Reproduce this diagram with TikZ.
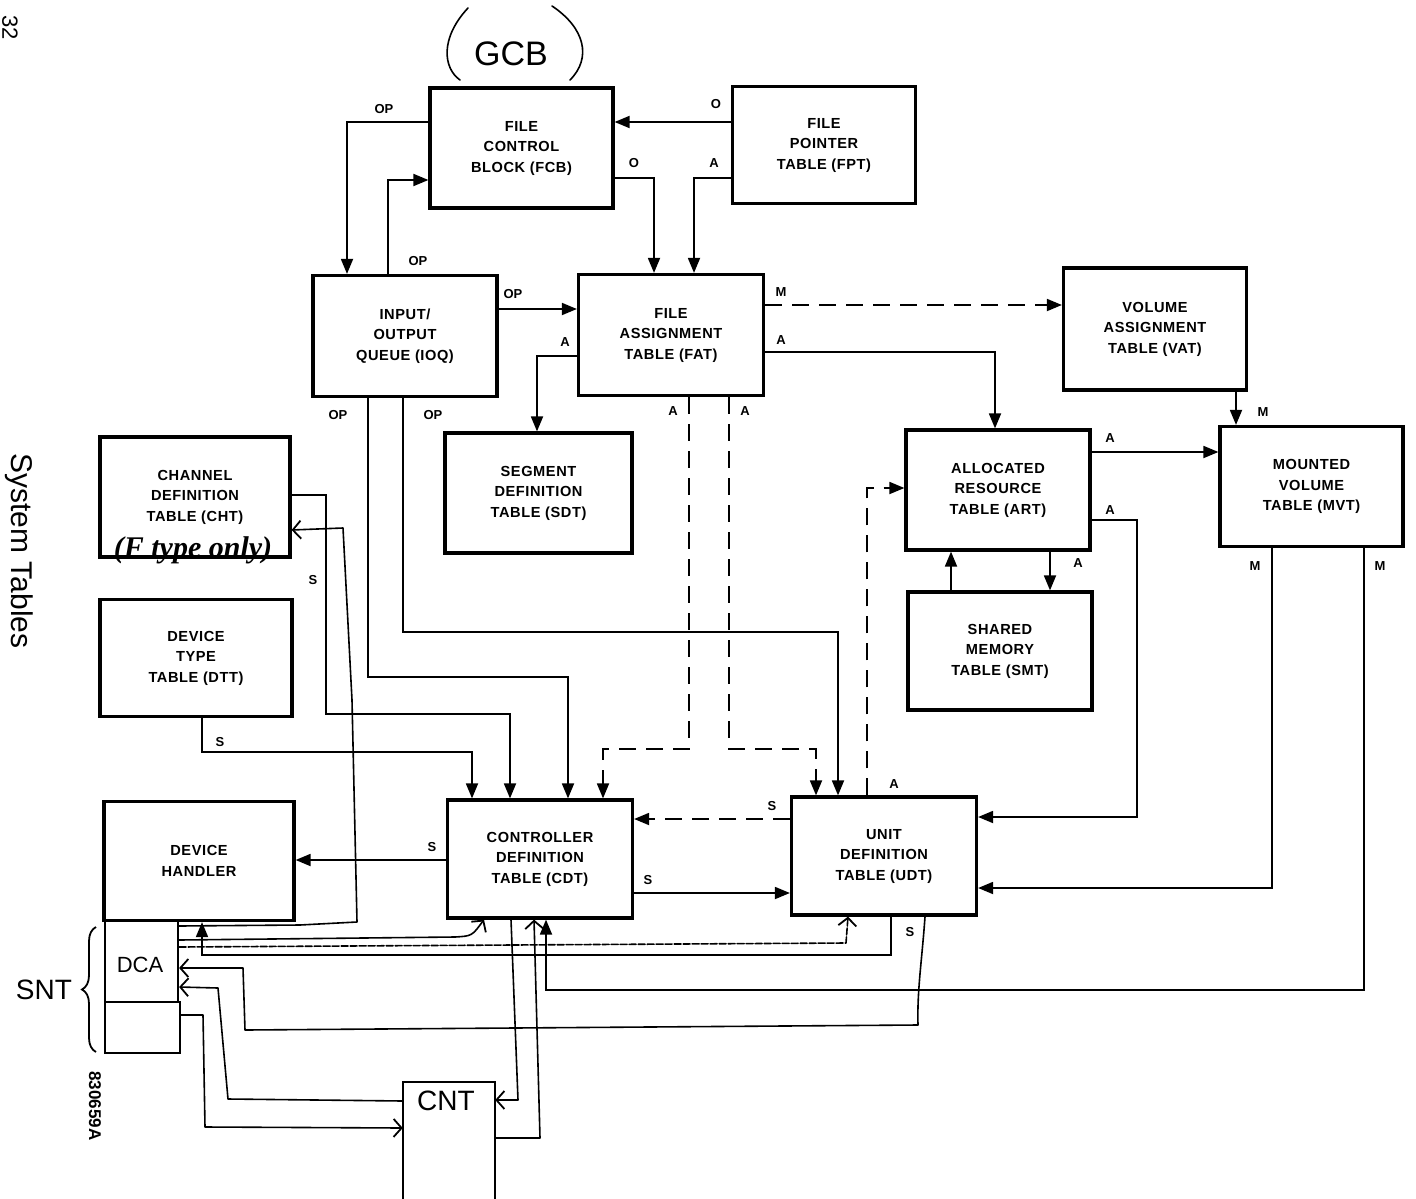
\documentclass[tikz,border=0pt]{standalone}
\usepackage{fontspec}
\setmainfont{Liberation Sans}
\newfontfamily\boxfont{Liberation Sans}[LetterSpace=4]
\newfontfamily\handfont{Liberation Serif}
\newfontfamily\handsans{Liberation Sans}
\usetikzlibrary{arrows.meta,decorations.pathreplacing}
\begin{document}
\begin{tikzpicture}[x=1pt,y=-1pt,
  bx/.style 2 args={minimum width=#1pt, minimum height=#2pt},
  tbl/.style={draw, line width=3.2pt, align=center, inner sep=0pt,
    font=\boxfont\bfseries\fontsize{14.6}{20.5}\selectfont},
  lbl/.style={font=\bfseries\fontsize{13}{13}\selectfont, inner sep=1pt},
  arr/.style={line width=1.8pt, -{Triangle[length=15pt,width=12pt]}},
  dsh/.style={dash pattern=on 17pt off 10pt},
  hline/.style={line width=1.6pt, line join=round, line cap=round},
  harr/.style={hline, -{Straight Barb[length=8pt,width=18pt,line width=1.8pt]}},
  hb/.style={draw, line width=2.2pt, inner sep=0pt},
  hw/.style={font=\handsans\fontsize{#1}{#1}\selectfont, inner sep=0pt},
  hw/.default=24
]
\useasboundingbox (0,0) rectangle (1416,1199);

% ---------------- margin texts ----------------
\node[rotate=-90, font=\fontsize{22}{22}\selectfont, inner sep=0pt] (pg) at (10,28) {32};
\node[rotate=-90, font=\fontsize{30}{30}\selectfont, inner sep=0pt] (title) at (19,551) {System Tables};
\node[rotate=-90, font=\bfseries\fontsize{17}{17}\selectfont, inner sep=0pt] (code) at (95,1106) {830659A};

% ---------------- boxes ----------------
\node[tbl,bx={183}{120}] (fcb) at (521.5,148) {FILE\\CONTROL\\BLOCK (FCB)};
\node[tbl,bx={183}{117}] (fpt) at (824,145) {FILE\\POINTER\\TABLE (FPT)};
\node[tbl,bx={184}{121}] (ioq) at (405,336) {INPUT/\\OUTPUT\\QUEUE (IOQ)};
\node[tbl,bx={185}{121}] (fat) at (671,335) {FILE\\ASSIGNMENT\\TABLE (FAT)};
\node[tbl,bx={183}{122}] (vat) at (1155,329) {VOLUME\\ASSIGNMENT\\TABLE (VAT)};
\node[tbl,bx={187}{120}] (sdt) at (538.5,493) {SEGMENT\\DEFINITION\\TABLE (SDT)};
\node[tbl,bx={184}{120}] (art) at (998,490) {ALLOCATED\\RESOURCE\\TABLE (ART)};
\node[tbl,bx={183}{120}] (mvt) at (1311.5,486.5) {MOUNTED\\VOLUME\\TABLE (MVT)};
\node[tbl,bx={190}{120}] (cht) at (195,497) {CHANNEL\\DEFINITION\\TABLE (CHT)};
\node[tbl,bx={192}{117}] (dtt) at (196,658) {DEVICE\\TYPE\\TABLE (DTT)};
\node[tbl,bx={184}{118}] (smt) at (1000,651) {SHARED\\MEMORY\\TABLE (SMT)};
\node[tbl,bx={190}{119}] (dh) at (199,861) {DEVICE\\HANDLER};
\node[tbl,bx={185}{118}] (cdt) at (540,859) {CONTROLLER\\DEFINITION\\TABLE (CDT)};
\node[tbl,bx={185}{118}] (udt) at (884,856) {UNIT\\DEFINITION\\TABLE (UDT)};

% hand-drawn boxes
\node[hb,bx={73}{82}] (dca) at (141.5,961) {};
\node[hw=22] (dcat) at (140,965) {DCA};
\node[hb,bx={75}{51}] (dcb) at (142.5,1027.5) {};
\node[inner sep=0pt,bx={92}{117}] (cnt) at (449,1141) {};
\draw[hb] (cnt.south west) -- (cnt.north west) -- (cnt.north east) -- (cnt.south east);
\node[hw=28] (cntt) at (446,1101) {CNT};

% ---------------- connectors ----------------
\draw[arr] (fcb.west |- 0,122) -| (ioq.north -| 347,0);
\draw[arr] (ioq.north -| 388,0) |- (fcb.west |- 0,180);
\draw[arr] (fpt.west |- 0,122) -- (fcb.east |- 0,122);
\draw[arr] (fcb.east |- 0,178) -| (fat.north -| 654,0);
\draw[arr] (fpt.west |- 0,178) -| (fat.north -| 694,0);
\draw[arr] (ioq.east |- 0,309) -- (fat.west |- 0,309);
\draw[arr,dsh] (fat.east |- 0,305) -- (vat.west |- 0,305);
\draw[arr] (fat.east |- 0,352) -| (art.north -| 995,0);
\draw[arr] (fat.west |- 0,356) -| (sdt.north -| 537,0);
\draw[arr] (vat.south -| 1236,0) -- (mvt.north -| 1236,0);
\draw[arr] (art.east |- 0,452) -- (mvt.west |- 0,452);
\draw[arr] (art.south -| 1050,0) -- (smt.north -| 1050,0);
\draw[arr] (smt.north -| 951,0) -- (art.south -| 951,0);
\draw[arr] (art.east |- 0,520) -| (1137,817) -- (udt.east |- 0,817);
\draw[arr] (mvt.south -| 1272,0) |- (udt.east |- 0,888);
\draw[arr] (mvt.south -| 1364,0) |- (546,990) -- (cdt.south -| 546,0);
\draw[arr] (ioq.south -| 368,0) |- (568,677) -- (cdt.north -| 568,0);
\draw[arr] (ioq.south -| 403,0) |- (838,632) -- (udt.north -| 838,0);
\draw[arr,dsh] (fat.south -| 689,0) |- (603,749) -- (cdt.north -| 603,0);
\draw[arr,dsh] (fat.south -| 729,0) |- (816,749) -- (udt.north -| 816,0);
\draw[arr,dsh] (udt.north -| 867,0) |- (art.west |- 0,488);
\draw[arr,dsh] (udt.west |- 0,819) -- (cdt.east |- 0,819);
\draw[arr] (cdt.east |- 0,893) -- (udt.west |- 0,893);
\draw[arr] (cdt.west |- 0,860) -- (dh.east |- 0,860);
\draw[arr] (cht.east |- 0,495) -| (326,714) -| (cdt.north -| 510,0);
\draw[arr] (dtt.south -| 202,0) |- (472,752) -- (cdt.north -| 472,0);
\draw[arr] (udt.south -| 891,0) |- (202,955) -- (dh.south -| 202,0);

% hand-drawn connectors
\draw[harr] (dca.east |- 0,926) -- (300,925) -- (357,922) -- (352,700) -- (343,528) -- (cht.east |- 0,530);
\draw[harr] (dca.east |- 0,940) -- (455,937) .. controls (472,936) .. (cdt.south -| 484,0);
\draw[harr, dash pattern=on 7pt off 2pt] (dca.east |- 0,947) -- (846,943) -- (udt.south -| 848,0);
\draw[harr] (udt.south -| 925,0) .. controls (922,960) and (917,990) .. (918,1025) -- (245,1030) -- (243,968) -- (dca.east |- 0,968);
\draw[harr] (cdt.south -| 511,0) -- (518,1100) -- (cnt.east |- 0,1100);
\draw[harr] (cnt.east |- 0,1138) -- (540,1138) -- (cdt.south -| 534,0);
\draw[harr] (cnt.west |- 0,1101) -- (228,1099) -- (218,988) -- (dca.east |- 0,987);
\draw[harr] (dcb.east |- 0,1015) -- (203,1015) -- (205,1127) -- (cnt.west |- 0,1128);

% brace and handwritten notes
\draw[line width=1.8pt, decorate, decoration={brace, amplitude=14pt}] (96,1052) -- (96,927);
\node[hw=28] (snt) at (44,990) {SNT};
\node[hw=34] (gcb) at (511,54) {GCB};
\draw[hline] (468,8) .. controls (440,38) and (443,68) .. (460,80);
\draw[hline] (552,6) .. controls (585,28) and (592,58) .. (570,80);
\node[font=\handfont\bfseries\itshape\fontsize{30}{30}\selectfont, inner sep=0pt] (ftype) at (193,550) {(F type only)};

% ---------------- connector labels ----------------
\node[lbl] (l1) at (384,109) {OP};
\node[lbl] (l2) at (418,261) {OP};
\node[lbl] (l3) at (716,104) {O};
\node[lbl] (l4) at (634,163) {O};
\node[lbl] (l5) at (714,163) {A};
\node[lbl] (l6) at (513,294) {OP};
\node[lbl] (l7) at (781,292) {M};
\node[lbl] (l8) at (781,340) {A};
\node[lbl] (l9) at (565,342) {A};
\node[lbl] (l10) at (1263,412) {M};
\node[lbl] (l11) at (1110,438) {A};
\node[lbl] (l12) at (1110,510) {A};
\node[lbl] (l13) at (1078,563) {A};
\node[lbl] (l14) at (1255,566) {M};
\node[lbl] (l15) at (1380,566) {M};
\node[lbl] (l16) at (338,415) {OP};
\node[lbl] (l17) at (433,415) {OP};
\node[lbl] (l18) at (673,411) {A};
\node[lbl] (l19) at (745,411) {A};
\node[lbl] (l20) at (313,580) {S};
\node[lbl] (l21) at (220,742) {S};
\node[lbl] (l22) at (432,847) {S};
\node[lbl] (l23) at (772,806) {S};
\node[lbl] (l24) at (648,880) {S};
\node[lbl] (l25) at (894,784) {A};
\node[lbl] (l26) at (910,932) {S};
\end{tikzpicture}
\end{document}
